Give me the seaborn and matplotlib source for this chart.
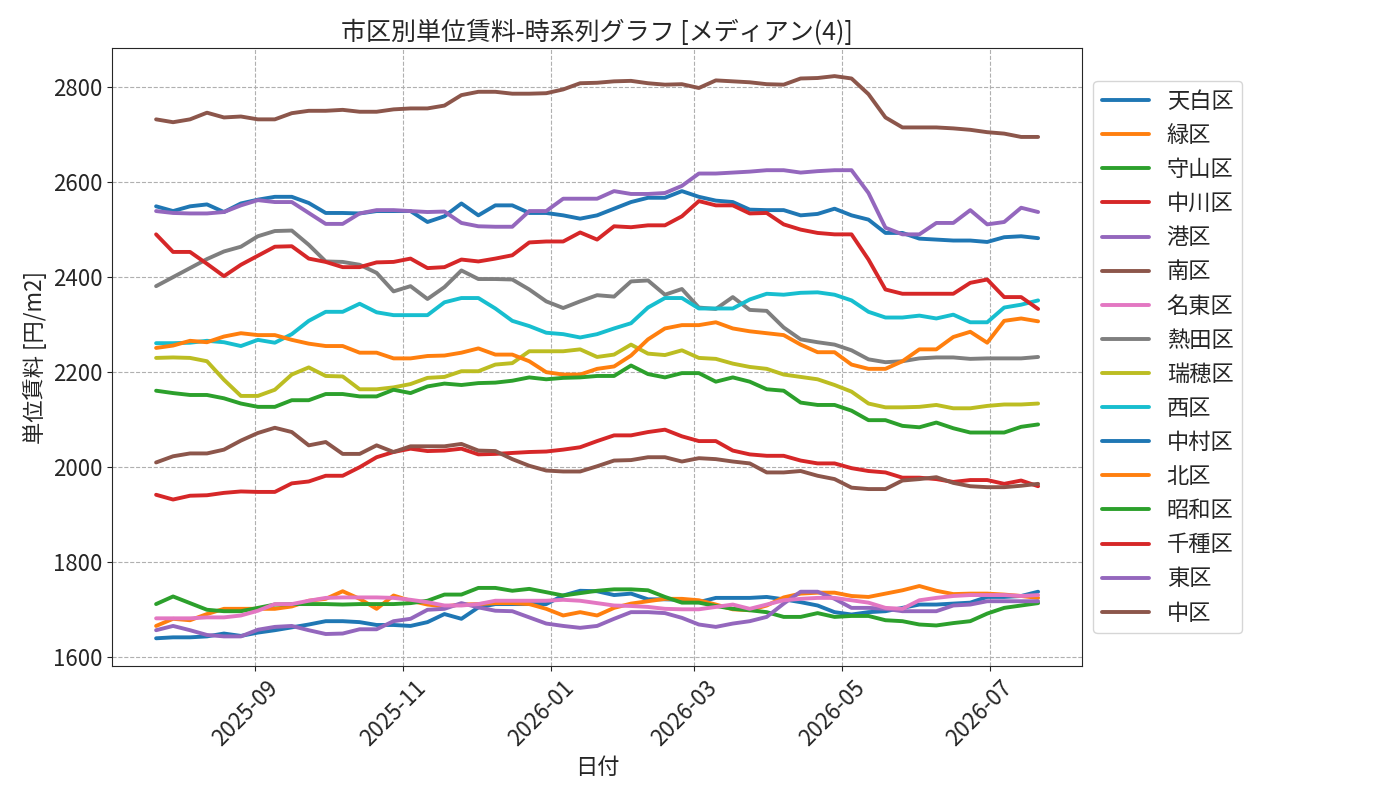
import numpy as np
import pandas as pd
import matplotlib
matplotlib.use("Agg")
import matplotlib.pyplot as plt
import matplotlib.dates as mdates
import matplotlib.transforms as mtransforms
import seaborn as sns

# ---- data ----
dates = pd.date_range("2025-07-22", periods=53, freq="7D")

districts = ["天白区", "緑区", "守山区", "中川区", "港区", "南区", "名東区", "熱田区",
             "瑞穂区", "西区", "中村区", "北区", "昭和区", "千種区", "東区", "中区"]

tenpaku = [1639,1641,1641,1643,1649,1644,1651,1656,1662,1668,1675,1675,1673,1667,1667,1665,1673,1690,1680,1704,1711,1711,1711,1711,1729,1739,1738,
           1730,1733,1721,1721,1720,1715,1724,1724,1724,1726,1721,1715,1708,1694,1689,1694,1696,1703,1710,1710,1712,1714,1726,1726,1728,1737]
midori = [1665,1680,1677,1690,1701,1701,1701,1701,1706,1718,1722,1738,1722,1701,1729,1718,1710,1706,1710,1711,1713,1713,1711,1701,1687,1694,1687,
          1703,1712,1717,1722,1722,1719,1710,1700,1698,1708,1725,1733,1735,1735,1728,1726,1733,1740,1749,1739,1732,1733,1733,1731,1728,1724]
moriyama = [1711,1727,1713,1699,1696,1696,1703,1710,1711,1711,1711,1710,1711,1711,1711,1713,1718,1731,1731,1745,1745,1739,1743,1736,1729,1734,1739,
            1742,1742,1740,1726,1714,1714,1707,1701,1698,1694,1684,1684,1692,1684,1686,1686,1677,1675,1668,1666,1671,1675,1691,1703,1708,1713]
nakagawa = [1941,1931,1939,1940,1945,1948,1947,1947,1965,1969,1981,1981,1999,2020,2031,2038,2033,2034,
            2038,2026,2027,2029,2031,2032,2036,2041,2054,2066,2066,2073,2078,2064,2054,2054,2034,2026,
            2023,2023,2013,2007,2007,1997,1991,1988,1977,1977,1974,1968,1972,1972,1964,1971,1959]
minato = [1656,1665,1656,1646,1643,1643,1657,1663,1665,1656,1648,1649,1658,1658,1675,1680,1699,1701,1713,1704,1697,1696,1683,1670,1665,1661,1665,
          1680,1694,1694,1692,1682,1668,1663,1670,1675,1684,1712,1737,1737,1722,1703,1703,1701,1696,1696,1696,1708,1710,1717,1717,1717,1717]
minami = [2009,2022,2028,2028,2036,2055,2071,2082,2073,2045,2052,2027,2027,2045,2031,2043,2043,2043,
          2048,2034,2033,2016,2002,1992,1990,1990,2001,2013,2014,2020,2020,2011,2018,2016,2011,2007,
          1988,1988,1991,1981,1974,1956,1953,1953,1971,1974,1978,1966,1959,1957,1957,1960,1964]
meito = [1681,1681,1681,1683,1683,1687,1697,1711,1711,1718,1724,1725,1725,1725,1724,1720,1715,1708,1708,1711,1718,1718,1718,1718,1720,1718,1713,
         1708,1707,1705,1701,1700,1700,1705,1710,1701,1710,1719,1722,1724,1724,1719,1714,1703,1701,1719,1724,1728,1730,1730,1730,1728,1730]
atsuta = [2380,2399,2418,2437,2453,2463,2485,2496,2497,2467,2432,2431,2425,2408,2369,2380,2353,2378,
          2413,2395,2395,2394,2373,2348,2334,2348,2361,2358,2390,2392,2362,2374,2335,2332,2357,2330,
          2328,2293,2268,2262,2257,2245,2226,2220,2222,2228,2230,2230,2227,2228,2228,2228,2231]
mizuho = [2229,2230,2229,2222,2183,2149,2149,2162,2194,2209,2191,2190,2163,2163,2167,2174,2187,2189,
          2201,2201,2215,2218,2243,2243,2243,2247,2231,2236,2257,2238,2235,2245,2229,2227,2217,2210,
          2206,2194,2189,2184,2172,2158,2133,2125,2125,2126,2130,2123,2123,2128,2131,2131,2133]
nishi = [2260,2260,2261,2265,2262,2254,2267,2261,2279,2307,2326,2326,2343,2325,2319,2319,2319,2346,
         2355,2355,2333,2307,2296,2282,2279,2272,2279,2291,2302,2335,2355,2355,2333,2333,2333,2352,
         2364,2362,2366,2367,2362,2350,2326,2314,2314,2318,2312,2320,2304,2304,2335,2341,2350]
nakamura = [2548,2538,2548,2552,2536,2554,2562,2568,2568,2555,2534,2534,2533,2538,2538,2538,2515,2527,
            2554,2529,2550,2550,2534,2534,2529,2522,2529,2543,2557,2566,2566,2580,2568,2560,2557,2541,
            2540,2540,2529,2532,2543,2529,2520,2492,2492,2480,2478,2476,2476,2473,2483,2485,2481]
kita = [2250,2255,2265,2262,2274,2281,2277,2277,2267,2259,2254,2254,2240,2240,2228,2228,2233,2234,
        2240,2249,2236,2236,2222,2199,2194,2194,2206,2211,2234,2268,2291,2298,2298,2304,2291,2285,
        2281,2277,2257,2241,2241,2215,2206,2206,2222,2247,2247,2273,2284,2261,2307,2312,2306]
showa = [2160,2155,2151,2151,2144,2133,2126,2126,2140,2140,2153,2153,2148,2148,2162,2155,2169,2175,
         2172,2176,2177,2181,2188,2184,2187,2188,2191,2191,2213,2195,2188,2197,2197,2179,2188,2179,
         2163,2160,2135,2130,2130,2118,2098,2098,2086,2083,2093,2081,2072,2072,2072,2084,2089]
chikusa = [2489,2452,2452,2427,2401,2425,2444,2463,2464,2438,2431,2420,2420,2430,2431,2438,2418,2420,
           2436,2432,2438,2445,2472,2474,2474,2493,2478,2506,2504,2508,2508,2527,2559,2550,2550,2533,
           2534,2510,2499,2492,2489,2489,2436,2373,2364,2364,2364,2364,2387,2394,2357,2357,2332]
higashi = [2538,2534,2533,2533,2536,2550,2561,2557,2557,2534,2511,2511,2533,2540,2540,2538,2536,2537,
           2513,2506,2505,2505,2538,2538,2564,2564,2564,2580,2574,2574,2576,2591,2617,2617,2619,2621,
           2624,2624,2619,2622,2624,2624,2576,2503,2489,2489,2513,2513,2540,2510,2515,2545,2536]
naka = [2731,2725,2731,2745,2735,2737,2731,2731,2744,2749,2749,2751,2747,2747,2752,2754,2754,2760,
        2782,2789,2789,2785,2785,2786,2794,2807,2808,2811,2812,2807,2804,2805,2797,2813,2811,2809,
        2805,2804,2817,2818,2822,2817,2784,2735,2714,2714,2714,2712,2709,2704,2701,2694,2694]

series = [tenpaku, midori, moriyama, nakagawa, minato, minami, meito, atsuta,
          mizuho, nishi, nakamura, kita, showa, chikusa, higashi, naka]

frames = []
for name, vals in zip(districts, series):
    frames.append(pd.DataFrame({"日付": dates, "単位賃料": vals, "市区": name}))
df = pd.concat(frames, ignore_index=True)

# ---- plot ----
sns.set_style("ticks")
plt.rcParams["font.family"] = ["Noto Sans CJK JP", "DejaVu Sans"]

fig, ax = plt.subplots(figsize=(14, 8), dpi=100)
fig.subplots_adjust(left=0.08, right=0.773, top=0.94, bottom=0.167)

palette = sns.color_palette("tab10", 10)
pal = {name: palette[i % 10] for i, name in enumerate(districts)}

sns.lineplot(data=df, x="日付", y="単位賃料", hue="市区", hue_order=districts,
             palette=pal, linewidth=2.8, ax=ax)

ax.grid(True, linestyle="--", color="#b0b0b0", linewidth=0.8)
ax.xaxis.set_major_locator(mdates.MonthLocator(bymonth=[1, 3, 5, 7, 9, 11]))
ax.xaxis.set_major_formatter(mdates.DateFormatter("%Y-%m"))
ax.tick_params(axis="both", labelsize=16)
offset = mtransforms.ScaledTranslation(0.11, 0.0, fig.dpi_scale_trans)
for lbl in ax.get_xticklabels():
    lbl.set_rotation(45)
    lbl.set_ha("right")
    lbl.set_rotation_mode("anchor")
    lbl.set_transform(lbl.get_transform() + offset)
for spine in ax.spines.values():
    spine.set_visible(True)

ax.set_title("市区別単位賃料-時系列グラフ [メディアン(4)]", fontsize=18)
ax.set_xlabel("日付", fontsize=16)
ax.set_ylabel("単位賃料 [円/m2]", fontsize=16)

ax.legend(loc="center left", bbox_to_anchor=(1.0, 0.5), fontsize=16,
          handlelength=2.1, labelspacing=0.5, frameon=True)

fig.savefig("out.png", dpi=100)
